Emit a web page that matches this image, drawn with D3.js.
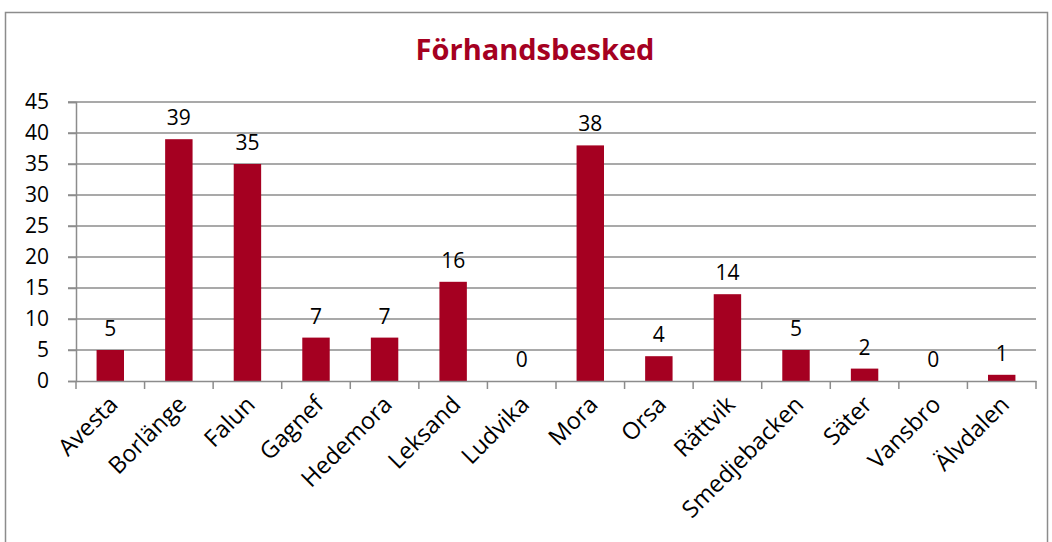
<!DOCTYPE html>
<html><head><meta charset="utf-8">
<script src="https://cdn.jsdelivr.net/npm/d3@7"></script>
<style>body{margin:0;background:#fff}svg{display:block}text{font-family:"Open Sans",sans-serif}</style>
</head><body>
<script>
const categories = ["Avesta","Borlänge","Falun","Gagnef","Hedemora","Leksand","Ludvika","Mora","Orsa","Rättvik","Smedjebacken","Säter","Vansbro","Älvdalen"];
const values = [5,39,35,7,7,16,0,38,4,14,5,2,0,1];
const yTicks = [0,5,10,15,20,25,30,35,40,45];
const title = "Förhandsbesked";

const W = 1052, H = 542;
const svg = d3.select("body").append("svg").attr("width", W).attr("height", H);
svg.append("rect").attr("x",5.5).attr("y",12.5).attr("width",1042).attr("height",540)
  .attr("fill","#fff").attr("stroke","#8c8c8c").attr("stroke-width",1.5);

const m = {left:76, right:1036, top:102, bottom:381};
const x = d3.scaleBand().domain(categories).range([m.left, m.right]).paddingInner(0.6).paddingOuter(0.3);
const y = d3.scaleLinear().domain([0,45]).range([m.bottom, m.top]);

svg.append("text").attr("x", 535).attr("y", 60).attr("text-anchor","middle")
  .attr("font-size", 29).attr("font-weight","bold").attr("fill","#A50021").text(title);

// gridlines
svg.append("g").selectAll("line").data(yTicks.filter(d=>d>0)).join("line")
  .attr("x1", m.left-8).attr("x2", m.right).attr("y1", d=>y(d)).attr("y2", d=>y(d))
  .attr("stroke","#8c8c8c").attr("stroke-width",1.5);

// y axis
const ya = svg.append("g").attr("transform",`translate(${m.left},0)`)
  .call(d3.axisLeft(y).tickValues(yTicks).tickSize(8).tickPadding(19));
ya.select(".domain").attr("stroke","#8c8c8c").attr("stroke-width",1.5);
ya.selectAll(".tick line").attr("stroke","#8c8c8c").attr("stroke-width",1.5);
ya.selectAll(".tick text").attr("font-size",21).attr("fill","#000").attr("font-family","Open Sans, sans-serif");

// bars
svg.append("g").selectAll("rect").data(categories).join("rect")
  .attr("x", d=>x(d)).attr("width", x.bandwidth())
  .attr("y", (d,i)=>y(values[i])).attr("height",(d,i)=>y(0)-y(values[i]))
  .attr("fill","#A50021");

// x axis
const xa = svg.append("g").attr("transform",`translate(0,${m.bottom})`)
  .call(d3.axisBottom(x).tickSize(0).tickFormat(""));
xa.select(".domain").attr("stroke","#8c8c8c").attr("stroke-width",1.5);
const bounds = d3.range(categories.length+1).map(i=>m.left + i*(m.right-m.left)/categories.length);
svg.append("g").selectAll("line").data(bounds).join("line")
  .attr("x1",d=>d).attr("x2",d=>d).attr("y1",m.bottom).attr("y2",m.bottom+8)
  .attr("stroke","#8c8c8c").attr("stroke-width",1.5);

// x labels
svg.append("g").selectAll("text").data(categories).join("text")
  .attr("transform", d=>`translate(${x(d)+x.bandwidth()/2+9},${m.bottom+25}) rotate(-45)`)
  .attr("text-anchor","end").attr("font-size",23.5).attr("fill","#000").text(d=>d);

// data labels
svg.append("g").selectAll("text").data(categories).join("text")
  .attr("x", d=>x(d)+x.bandwidth()/2).attr("y",(d,i)=>y(values[i])-14)
  .attr("text-anchor","middle").attr("font-size",21).attr("fill","#000").text((d,i)=>values[i]);
</script>
</body></html>
